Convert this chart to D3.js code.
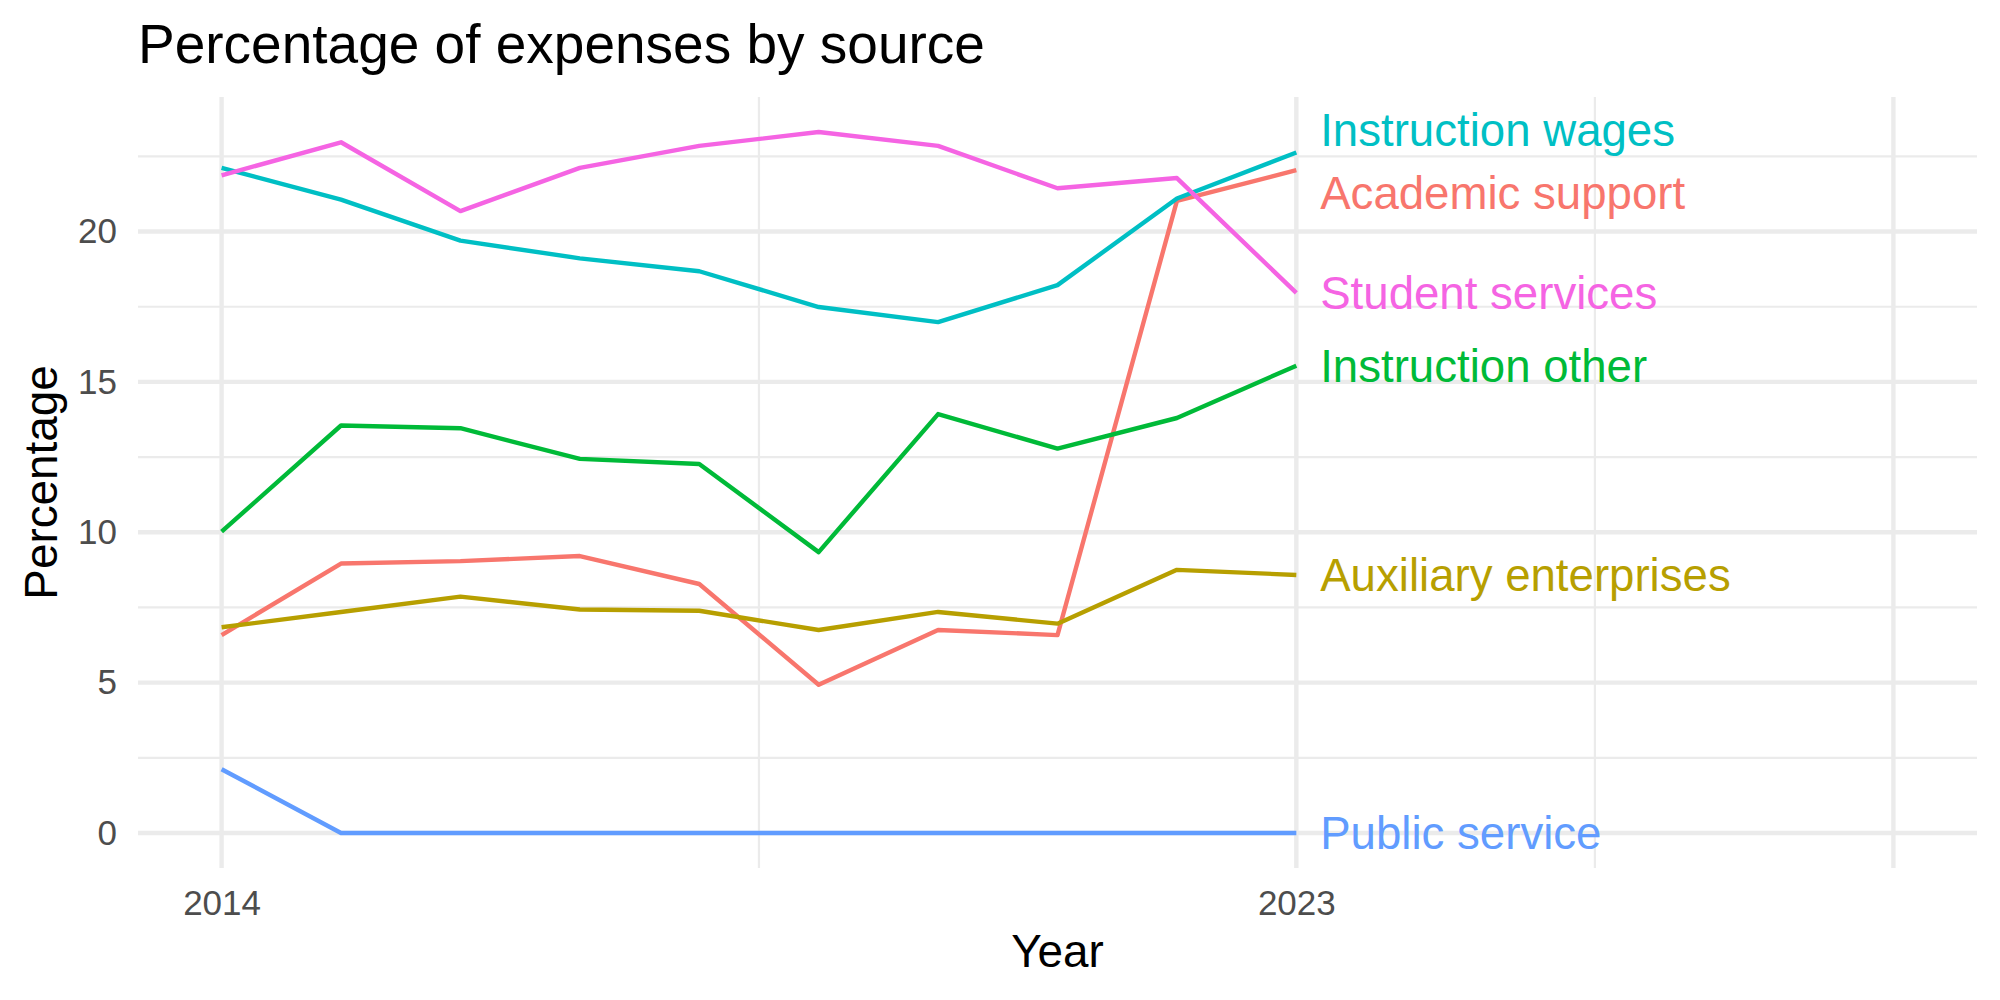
<!DOCTYPE html>
<html lang="en">
<head>
  <meta charset="UTF-8">
  <title>Percentage of expenses by source</title>
  <script src="https://d3js.org/d3.v7.min.js"></script>
  <style>
    body { margin: 0; background: #fff; }
    text { font-family: "Liberation Sans", Arial, Helvetica, sans-serif; }
    .tick-label { fill: #4D4D4D; font-size: 35px; }
    .axis-title { fill: #000; font-size: 45.8px; }
  </style>
</head>
<body>
  <div id="chart"></div>

  <script>
    // Data
    const years = [2014, 2015, 2016, 2017, 2018, 2019, 2020, 2021, 2022, 2023];

    const seriesNames = [
      "Academic support",
      "Auxiliary enterprises",
      "Instruction other",
      "Instruction wages",
      "Public service",
      "Student services"
    ];

    const academicSupport      = [6.58, 8.96, 9.04, 9.21, 8.28, 4.93, 6.75, 6.58, 21.02, 22.04];
    const auxiliaryEnterprises = [6.84, 7.35, 7.86, 7.43, 7.39, 6.75, 7.35, 6.96, 8.75, 8.58];
    const instructionOther     = [10.02, 13.55, 13.46, 12.44, 12.27, 9.34, 13.93, 12.78, 13.80, 15.54];
    const instructionWages     = [22.12, 21.06, 19.70, 19.11, 18.68, 17.49, 16.99, 18.22, 21.10, 22.63];
    const publicService        = [2.12, 0, 0, 0, 0, 0, 0, 0, 0, 0];
    const studentServices      = [21.87, 22.97, 20.68, 22.12, 22.85, 23.31, 22.85, 21.44, 21.78, 17.96];

    const xBreaks = [2014, 2023, 2028];
    const xBreakLabels = ["2014", "2023", ""];
    const xMinorBreaks = [2018.5, 2025.5];
    const yBreaks = [0, 5, 10, 15, 20];
    const yMinorBreaks = [2.5, 7.5, 12.5, 17.5, 22.5];

    const colors = ["#F8766D", "#B79F00", "#00BA38", "#00BFC4", "#619CFF", "#F564E3"];

    const allValues = [academicSupport, auxiliaryEnterprises, instructionOther,
                       instructionWages, publicService, studentServices];
    const series = seriesNames.map((name, i) => ({
      name,
      color: colors[i],
      values: years.map((y, j) => ({ year: y, value: allValues[i][j] }))
    }));

    const W = 2000, H = 1000;
    const panel = { left: 138, right: 1977, top: 97, bottom: 868 };

    const svg = d3.select("#chart").append("svg")
      .attr("width", W)
      .attr("height", H);

    // x runs to 2028 to leave room for the labels, 5% padding like ggplot
    const xMin = 2014, xMax = 2028;
    const xPad = (xMax - xMin) * 0.05;
    const x = d3.scaleLinear()
      .domain([xMin - xPad, xMax + xPad])
      .range([panel.left, panel.right]);

    const yMaxData = d3.max(allValues.flat());
    const yMinData = d3.min(allValues.flat());
    const yPad = (yMaxData - yMinData) * 0.05;
    const y = d3.scaleLinear()
      .domain([yMinData - yPad, yMaxData + yPad])
      .range([panel.bottom, panel.top]);

    // grid
    const grid = svg.append("g");
    grid.selectAll(".ymin").data(yMinorBreaks).enter().append("line")
      .attr("x1", panel.left).attr("x2", panel.right)
      .attr("y1", d => y(d)).attr("y2", d => y(d))
      .attr("stroke", "#EBEBEB").attr("stroke-width", 2.2);
    grid.selectAll(".xmin").data(xMinorBreaks).enter().append("line")
      .attr("y1", panel.top).attr("y2", panel.bottom)
      .attr("x1", d => x(d)).attr("x2", d => x(d))
      .attr("stroke", "#EBEBEB").attr("stroke-width", 2.2);
    grid.selectAll(".ymaj").data(yBreaks).enter().append("line")
      .attr("x1", panel.left).attr("x2", panel.right)
      .attr("y1", d => y(d)).attr("y2", d => y(d))
      .attr("stroke", "#EBEBEB").attr("stroke-width", 4.4);
    grid.selectAll(".xmaj").data(xBreaks).enter().append("line")
      .attr("y1", panel.top).attr("y2", panel.bottom)
      .attr("x1", d => x(d)).attr("x2", d => x(d))
      .attr("stroke", "#EBEBEB").attr("stroke-width", 4.4);

    // axes (ticks hidden, theme_minimal style)
    const yAxis = svg.append("g")
      .attr("transform", `translate(${panel.left},0)`)
      .call(d3.axisLeft(y).tickValues(yBreaks).tickSize(0).tickPadding(21));
    yAxis.select(".domain").remove();
    yAxis.selectAll("text").attr("class", "tick-label").attr("fill", null)
      .attr("font-family", null).attr("font-size", null);

    const xAxis = svg.append("g")
      .attr("transform", `translate(0,${panel.bottom})`)
      .call(d3.axisBottom(x).tickValues(xBreaks).tickSize(0).tickPadding(22)
        .tickFormat((d, i) => xBreakLabels[i]));
    xAxis.select(".domain").remove();
    xAxis.selectAll("text").attr("class", "tick-label").attr("fill", null)
      .attr("font-family", null).attr("font-size", null);

    // lines
    const line = d3.line()
      .x(d => x(d.year))
      .y(d => y(d.value));

    svg.append("g").selectAll("path")
      .data(series)
      .enter().append("path")
      .attr("d", d => line(d.values))
      .attr("fill", "none")
      .attr("stroke", d => d.color)
      .attr("stroke-width", 4.4)
      .attr("stroke-linejoin", "round");

    // end labels, pushed apart when they overlap
    const minGap = 2.1;
    const labels = series.map(s => ({
      name: s.name, color: s.color,
      year: s.values[s.values.length - 1].year,
      pos: s.values[s.values.length - 1].value
    })).sort((a, b) => a.pos - b.pos);
    for (let iter = 0; iter < 50; iter++) {
      let moved = false;
      for (let i = 1; i < labels.length; i++) {
        const gap = labels[i].pos - labels[i - 1].pos;
        if (gap < minGap) {
          const shift = (minGap - gap) / 2;
          labels[i].pos += shift;
          labels[i - 1].pos -= shift;
          moved = true;
        }
      }
      if (!moved) break;
    }

    svg.append("g").selectAll("text")
      .data(labels)
      .enter().append("text")
      .attr("x", d => x(d.year + 0.2))
      .attr("y", d => y(d.pos))
      .attr("dy", "0.36em")
      .attr("fill", d => d.color)
      .style("font-size", "45.6px")
      .text(d => d.name);

    // titles
    svg.append("text")
      .attr("x", panel.left)
      .attr("y", 63)
      .style("font-size", "55px")
      .attr("fill", "#000")
      .text("Percentage of expenses by source");

    svg.append("text")
      .attr("class", "axis-title")
      .attr("x", (panel.left + panel.right) / 2)
      .attr("y", 967)
      .attr("text-anchor", "middle")
      .text("Year");

    svg.append("text")
      .attr("class", "axis-title")
      .attr("transform", `translate(57,${(panel.top + panel.bottom) / 2}) rotate(-90)`)
      .attr("text-anchor", "middle")
      .text("Percentage");
  </script>
</body>
</html>
